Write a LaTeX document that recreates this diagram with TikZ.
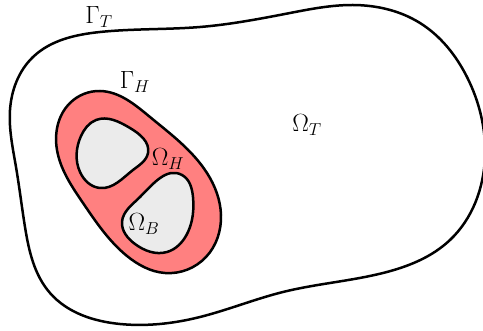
\documentclass[tikz,border=0pt]{standalone}
\usepackage{tikz}
\usetikzlibrary{hobby}
\begin{document}
\begin{tikzpicture}[x=1pt,y=-1pt,use Hobby shortcut,
  bnd/.style={line width=2.5pt, line join=round},
  lbl/.style={inner sep=0pt, font=\fontsize{23.5}{27}\selectfont}]
\useasboundingbox (0,0) rectangle (483,331);
% outer domain
\draw[bnd, fill=white, closed=true] (10,110) .. (16,167) .. (25,227) .. (50,293) .. (120,324)
 .. (200,317) .. (283,292) .. (383,273) .. (450,240) .. (485,157) .. (467,77) .. (420,23)
 .. (353,5) .. (290,13) .. (200,27) .. (100,32) .. (33,57);
% hole region
\draw[bnd, fill={rgb,255:red,255;green,128;blue,128}, closed=true] (100,91) .. (150,117)
 .. (207,173) .. (221,215) .. (206,257) .. (165,273) .. (127,256) .. (83,203) .. (57,150) .. (70,103);
% grey holes
\draw[bnd, fill={rgb,255:red,235;green,235;blue,235}, closed=true] (96,120) .. (130,128)
 .. (148,153) .. (133,170) .. (100,188) .. (80,172) .. (81,136);
\draw[bnd, fill={rgb,255:red,235;green,235;blue,235}, closed=true] (182,175) .. (193,197)
 .. (188,232) .. (167,252) .. (135,244) .. (122,222) .. (140,197);
% labels
\node[lbl] (gT) at (99,17) {$\Gamma_T$};
\node[lbl] (gH) at (135,82) {$\Gamma_H$};
\node[lbl] (oT) at (307,125) {$\Omega_T$};
\node[lbl] (oH) at (168,159) {$\Omega_H$};
\node[lbl] (oB) at (144,224) {$\Omega_B$};
\end{tikzpicture}
\end{document}
